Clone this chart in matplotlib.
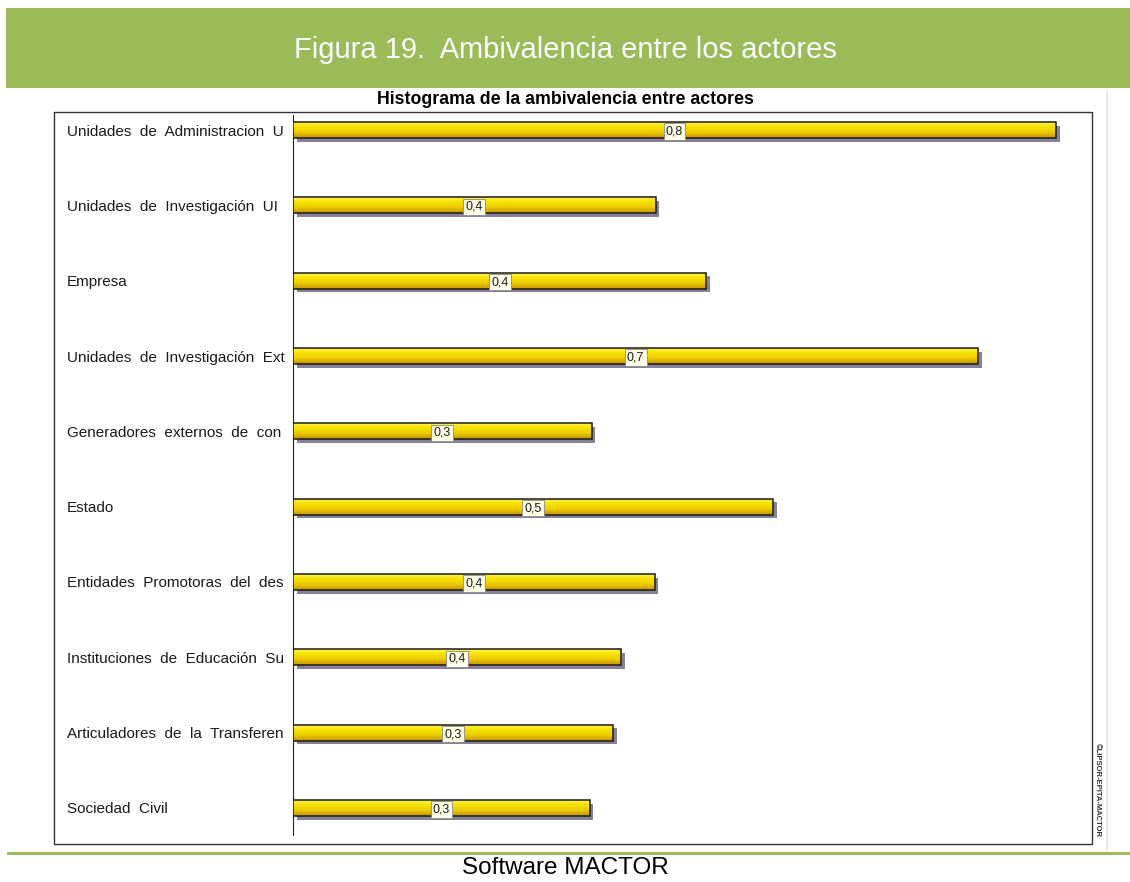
import numpy as np
import matplotlib
matplotlib.use("Agg")
import matplotlib.pyplot as plt
from matplotlib import patheffects
from matplotlib.colors import LinearSegmentedColormap
from matplotlib.patches import Rectangle
from matplotlib import font_manager

actores = [
    "Unidades  de  Administracion  U",
    "Unidades  de  Investigación  UI",
    "Empresa",
    "Unidades  de  Investigación  Ext",
    "Generadores  externos  de  con",
    "Estado",
    "Entidades  Promotoras  del  des",
    "Instituciones  de  Educación  Su",
    "Articuladores  de  la  Transferen",
    "Sociedad  Civil",
]
ambivalencia = [0.825, 0.392, 0.447, 0.741, 0.323, 0.519, 0.391, 0.355, 0.346, 0.321]

W, H = 1130, 882
GREEN = "#9bbb59"

names = {f.name for f in font_manager.fontManager.ttflist}
narrow = "Liberation Sans"
for cand in ["Liberation Sans Narrow", "DejaVu Sans Condensed"]:
    if cand in names:
        narrow = cand
        break
plt.rcParams["font.family"] = ["Liberation Sans", "DejaVu Sans"]

fig = plt.figure(figsize=(W / 100, H / 100), dpi=100)


def fx(px):
    return px / W


def fy(py):
    return 1 - py / H


# green header band and bottom rule
fig.patches.append(Rectangle((fx(6), fy(88)), fx(W - 6), 80 / H, transform=fig.transFigure,
                             facecolor=GREEN, edgecolor="none", zorder=-2))
fig.patches.append(Rectangle((fx(7), fy(855)), fx(W - 7), 3 / H, transform=fig.transFigure,
                             facecolor=GREEN, edgecolor="none", zorder=-2))
fig.text(0.5, fy(50), "Figura 19.  Ambivalencia entre los actores", ha="center", va="center",
         color="white", fontsize=21, family="Liberation Sans")
fig.text(0.5, fy(868), "Software MACTOR", ha="center", va="center", fontsize=17.5,
         family="Liberation Sans")

# chart frame
fig.patches.append(Rectangle((fx(54), fy(844)), fx(1092 - 54), (844 - 112) / H,
                             transform=fig.transFigure, facecolor="white",
                             edgecolor="#333333", lw=1.0, zorder=-1))
fig.lines.append(plt.Line2D([fx(1107), fx(1107)], [fy(90), fy(850)], transform=fig.transFigure,
                            color="#e8e6dc", lw=1.2, zorder=-1))
fig.text(0.5, fy(100), "Histograma de la ambivalencia entre actores", ha="center", va="center",
         fontsize=12.8, fontweight="bold", family="Liberation Sans")
fig.text(fx(1097), fy(790), "©LIPSOR-EPITA-MACTOR", rotation=270, ha="center", va="center",
         fontsize=5.5, fontweight="bold", family=narrow, color="#333333")

ax = fig.add_axes([fx(293), fy(835), fx(1092 - 293), (835 - 115) / H])
ax.set_zorder(2)
ax.patch.set_alpha(0)
pos = np.arange(len(actores))
h = 0.215
xmax = 0.825 * (1092 - 293) / 763
for s in ["top", "right", "bottom"]:
    ax.spines[s].set_visible(False)
ax.spines["left"].set_color("#222222")
ax.set_xticks([])
ax.set_yticks(pos)
ax.set_yticklabels(actores, fontsize=11, ha="left", color="#1a1a1a")
ax.tick_params(axis="y", length=0, pad=(293 - 67) * 0.72)

shadow = [patheffects.withSimplePatchShadow(offset=(2.6, -2.6), shadow_rgbFace="#6a5f7e", alpha=0.8)]
bars = ax.barh(pos, ambivalencia, height=h, color="#f2d200", edgecolor="none",
               path_effects=shadow, zorder=2)

cmap = LinearSegmentedColormap.from_list("oro", ["#fff566", "#f8e200", "#eccb00", "#c49200"])
grad = np.linspace(0, 1, 64).reshape(-1, 1)
for b in bars:
    x0, y0 = b.get_x(), b.get_y()
    im = ax.imshow(grad, cmap=cmap, aspect="auto", zorder=3,
                   extent=[x0, x0 + b.get_width(), y0 + b.get_height(), y0])
    im.set_clip_path(b)
ax.barh(pos, ambivalencia, height=h, fill=False, edgecolor="#1a1a1a", lw=1.1, zorder=4)
ax.set_xlim(0, xmax)
ax.set_ylim(9 + 27 / 75.3, -15 / 75.3)

for p, v in zip(pos, ambivalencia):
    ax.text(v / 2, p + 0.02, f"{v:.1f}".replace(".", ","), ha="center", va="center",
            fontsize=9, zorder=5, color="#1a1a1a",
            bbox=dict(boxstyle="square,pad=0.18", facecolor="#ffffe8", edgecolor="#8a8a8a", lw=0.6))

fig.savefig("out.png", dpi=100)
